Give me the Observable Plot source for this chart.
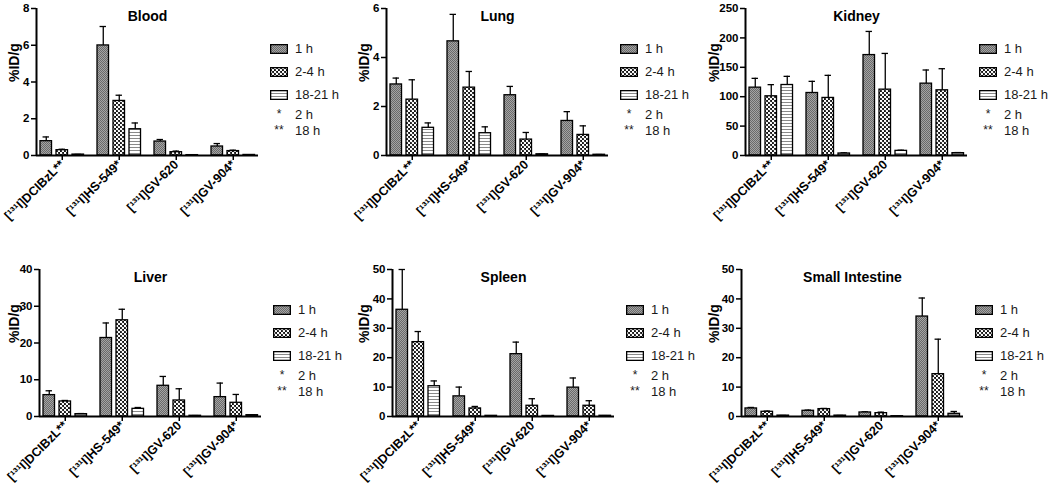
<!DOCTYPE html>
<html><head><meta charset="utf-8">
<script src="https://cdn.jsdelivr.net/npm/d3@7"></script>
<script src="https://cdn.jsdelivr.net/npm/@observablehq/plot@0.6"></script>
<style>
html,body{margin:0;padding:0;background:#fff;overflow:hidden;}
#root{position:relative;width:1050px;height:488px;font-family:"Liberation Sans",Arial,sans-serif;}
.panel{position:absolute;}
.panel svg{overflow:visible;}
.legend{position:absolute;font-size:13px;color:#1a1a1a;font-family:"Liberation Sans",Arial,sans-serif;}
.legend .row{display:flex;align-items:center;height:23px;}
.legend .row.star{height:16px;}
.legend .sw{width:18px;height:10px;display:block;}
.legend .sym{width:18px;text-align:center;font-size:12px;line-height:12px;}
.legend .lab{margin-left:7px;}
</style>
</head><body>
<svg width="0" height="0" style="position:absolute">
  <defs>
    <pattern id="pat1h" patternUnits="userSpaceOnUse" width="2" height="2">
      <rect width="2" height="2" fill="#a4a4a4"/>
      <rect x="0" y="0" width="1" height="1" fill="#6a6a6a"/>
      <rect x="1" y="1" width="1" height="1" fill="#6a6a6a"/>
    </pattern>
    <pattern id="pat24h" patternUnits="userSpaceOnUse" width="4" height="4">
      <rect width="4" height="4" fill="#111"/>
      <circle cx="1" cy="1" r="1.25" fill="#fff"/>
      <circle cx="3" cy="3" r="1.25" fill="#fff"/>
    </pattern>
    <pattern id="pat1821h" patternUnits="userSpaceOnUse" width="4" height="3">
      <rect width="4" height="3" fill="#fff"/>
      <rect x="0" y="0" width="4" height="1" fill="#8a8a8a"/>
    </pattern>
  </defs>
</svg>
<div id="root"></div>
<script>
// ---------- data ----------
const compounds = ["[¹³¹I]DCIBzL**", "[¹³¹I]HS-549*", "[¹³¹I]GV-620", "[¹³¹I]GV-904*"];
const series = ["1 h", "2-4 h", "18-21 h"];
const notes = [["*", "2 h"], ["**", "18 h"]];
const organs = ["Blood", "Lung", "Kidney", "Liver", "Spleen", "Small Intestine"];
const yLabel = "%ID/g";
const yMax = [8, 6, 250, 40, 50, 50];
const yStep = [2, 2, 50, 10, 10, 10];

// rows: compounds; columns: series (1 h, 2-4 h, 18-21 h)
const bloodMean = [[0.78,0.29,0.05],[5.99,2.97,1.43],[0.76,0.18,0.02],[0.49,0.24,0.03]];
const bloodErr  = [[0.23,0.05,0.01],[1.03,0.31,0.34],[0.11,0.06,0.01],[0.16,0.05,0.01]];
const lungMean  = [[2.90,2.28,1.13],[4.66,2.77,0.91],[2.46,0.65,0.05],[1.41,0.84,0.03]];
const lungErr   = [[0.26,0.81,0.20],[1.10,0.66,0.26],[0.36,0.29,0.01],[0.38,0.37,0.01]];
const kidneyMean= [[115.4,100.7,119.9],[106.3,97.9,3.4],[170.8,112.0,7.9],[122.2,110.9,4.0]];
const kidneyErr = [[15.8,19.8,14.7],[19.8,38.4,1.1],[40.2,61.6,1.1],[23.2,36.7,1.0]];
const liverMean = [[5.82,4.09,0.64],[21.36,26.18,2.09],[8.36,4.36,0.20],[5.27,3.73,0.36]];
const liverErr  = [[1.18,0.27,0.16],[4.09,3.00,0.36],[2.54,3.19,0.05],[3.82,2.27,0.14]];
const spleenMean= [[36.3,25.3,10.3],[6.85,2.74,0.23],[21.2,3.65,0.20],[9.82,3.65,0.25]];
const spleenErr = [[13.7,3.6,1.8],[3.15,0.68,0.05],[4.1,2.4,0.05],[3.28,1.72,0.05]];
const siMean    = [[2.74,1.60,0.30],[1.94,2.51,0.30],[1.37,1.14,0.10],[34.0,14.4,0.91]];
const siErr     = [[0.34,0.23,0.05],[0.23,0.23,0.05],[0.23,0.34,0.03],[6.3,11.9,0.8]];

const means = [bloodMean, lungMean, kidneyMean, liverMean, spleenMean, siMean];
const errs  = [bloodErr, lungErr, kidneyErr, liverErr, spleenErr, siErr];

// ---------- layout/style ----------
const patterns = ["url(#pat1h)", "url(#pat24h)", "url(#pat1821h)"];
const marginLefts = [36, 36, 45, 39, 42, 41];
const colLeft = [0, 350, 700];
const rowTop = [0, 261];
const GS = 3.5625, BW = 0.72, X0 = -0.25, X1 = 13.625;

const root = document.getElementById("root");

function makePanel(i) {
  const mean = means[i], err = errs[i];
  const rows = [];
  compounds.forEach((c, g) => series.forEach((s, k) =>
    rows.push({compound: c, series: s, g, k, v: mean[g][k], e: err[g][k]})));
  const xa = d => d.g * GS + d.k;
  const xb = d => d.g * GS + d.k + BW;
  const xc = d => d.g * GS + d.k + BW / 2;
  const tickPos = compounds.map((c, g) => g * GS + 1 + BW / 2);
  const ml = marginLefts[i];
  const plot = Plot.plot({
    width: ml + 224, height: 227,
    marginLeft: ml, marginRight: 2, marginTop: 8, marginBottom: 72,
    style: {fontFamily: "'Liberation Sans', Arial, sans-serif", fontSize: "11px", fontWeight: "bold", color: "#000", background: "transparent", overflow: "visible"},
    x: {domain: [X0, X1]},
    y: {domain: [0, yMax[i]]},
    color: {type: "ordinal", domain: series, range: patterns},
    marks: [
      Plot.ruleX(rows, {x: xc, y1: "v", y2: d => d.v + d.e, stroke: "#000", strokeWidth: 1.3}),
      Plot.ruleY(rows, {y: d => d.v + d.e, x1: d => xc(d) - 0.2, x2: d => xc(d) + 0.2, stroke: "#000", strokeWidth: 1.3}),
      Plot.rect(rows, {x1: xa, x2: xb, y1: 0, y2: "v", fill: "series", stroke: "#000", strokeWidth: 1.3}),
      Plot.ruleY([0], {stroke: "#000", strokeWidth: 2}),
      Plot.ruleX([X0], {stroke: "#000", strokeWidth: 2}),
      Plot.axisY({ticks: d3.range(0, yMax[i] + 1e-9, yStep[i]), tickFormat: d => String(d), tickSize: 5, tickPadding: 2, strokeWidth: 1.5, fontSize: 11.5, label: null}),
      Plot.axisX({ticks: tickPos, tickFormat: (d, j) => compounds[j], tickRotate: -45, tickSize: 5, tickPadding: 2, strokeWidth: 1.5, fontSize: 12.5, label: null}),
      Plot.text([yLabel], {frameAnchor: "left", rotate: -90, dx: 14 - ml, fontSize: 14, text: d => d}),
      Plot.text([organs[i]], {frameAnchor: "top", dy: 3, fontSize: 14, text: d => d})
    ]
  });
  const div = document.createElement("div");
  div.className = "panel";
  div.style.left = colLeft[i % 3] + "px";
  div.style.top = rowTop[Math.floor(i / 3)] + "px";
  div.appendChild(plot);
  root.appendChild(div);

  // legend
  const leg = document.createElement("div");
  leg.className = "legend";
  leg.style.left = (colLeft[i % 3] + ml + 234) + "px";
  leg.style.top = (rowTop[Math.floor(i / 3)] + 37) + "px";
  series.forEach((s, k) => {
    const r = document.createElement("div");
    r.className = "row";
    r.innerHTML = `<svg class="sw" width="18" height="10"><rect x="0.65" y="0.65" width="16.7" height="8.7" fill="${patterns[k]}" stroke="#000" stroke-width="1.3"/></svg><span class="lab">${s}</span>`;
    leg.appendChild(r);
  });
  notes.forEach(([sym, lab]) => {
    const r = document.createElement("div");
    r.className = "row star";
    r.innerHTML = `<span class="sym">${sym}</span><span class="lab">${lab}</span>`;
    leg.appendChild(r);
  });
  root.appendChild(leg);
}
organs.forEach((o, i) => makePanel(i));
</script>
</body></html>
